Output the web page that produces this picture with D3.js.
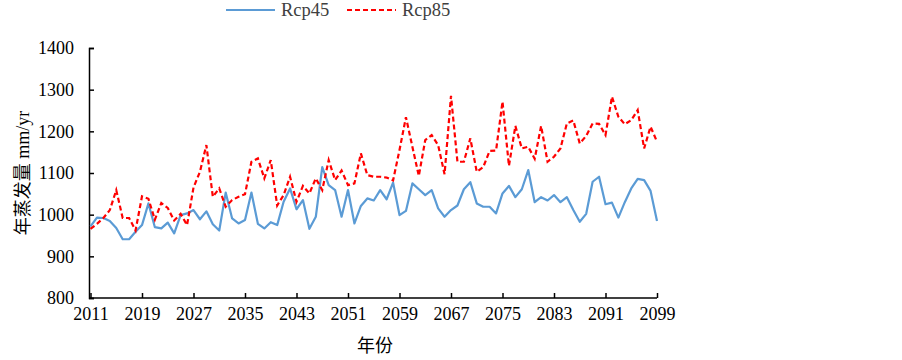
<!DOCTYPE html>
<html>
<head>
<meta charset="utf-8">
<script src="https://cdn.jsdelivr.net/npm/d3@7"></script>
<style>
  body { margin: 0; background: #fff; }
  svg text { font-family: "Liberation Serif", "Noto Sans CJK SC", serif; }
</style>
</head>
<body>
<script>
// 数据
var years = d3.range(2011, 2100);
var xTicks = [2011, 2019, 2027, 2035, 2043, 2051, 2059, 2067, 2075, 2083, 2091, 2099];
var yTicks = [800, 900, 1000, 1100, 1200, 1300, 1400];
var seriesNames = ["Rcp45", "Rcp85"];

var rcp45 = [972, 993, 992, 985, 968, 941, 941, 959, 975, 1027,
  970, 967, 981, 955, 999, 1003, 1011, 989, 1008, 977,
  962, 1053, 991, 979, 987, 1053, 978, 967, 982, 975,
  1031, 1063, 1013, 1035, 966, 995, 1114, 1071, 1059, 995,
  1059, 979, 1021, 1039, 1034, 1059, 1037, 1077, 999, 1009,
  1075, 1061, 1047, 1059, 1015, 995, 1011, 1022, 1061, 1078,
  1027, 1019, 1019, 1003, 1051, 1069, 1042, 1061, 1107, 1030,
  1042, 1034, 1047, 1030, 1042, 1011, 983, 1002, 1079, 1091,
  1025, 1029, 993, 1030, 1063, 1086, 1083, 1057, 985];

var rcp85 = [966, 978, 992, 1011, 1059, 992, 992, 962, 1044, 1038,
  988, 1028, 1016, 986, 1002, 975, 1065, 1103, 1167, 1043,
  1063, 1019, 1035, 1043, 1049, 1127, 1135, 1087, 1131, 1022,
  1047, 1091, 1031, 1069, 1051, 1087, 1059, 1131, 1083, 1106,
  1071, 1075, 1147, 1095, 1091, 1091, 1089, 1082, 1155, 1234,
  1163, 1093, 1179, 1191, 1167, 1097, 1285, 1127, 1127, 1183,
  1103, 1114, 1153, 1154, 1271, 1117, 1213, 1159, 1163, 1134,
  1213, 1127, 1139, 1159, 1219, 1226, 1171, 1189, 1219, 1218,
  1191, 1283, 1235, 1217, 1227, 1251, 1159, 1211, 1175];

function draw() {
  var width = 902, height = 360;
  var mLeft = 89, mRight = 657, mTop = 48, mBottom = 298;

  var svg = d3.select("body").append("svg")
    .attr("width", width)
    .attr("height", height);

  // 比例尺
  var x = d3.scaleLinear().domain([2011, 2099]).range([mLeft + 1.5, mRight]);
  var y = d3.scaleLinear().domain([800, 1400]).range([mBottom, mTop]);

  // 坐标轴 (刻度朝内)
  var xAxis = svg.append("g")
    .attr("transform", "translate(0," + mBottom + ")")
    .call(d3.axisBottom(x).tickValues(xTicks).tickFormat(d3.format("d")).tickSizeOuter(0).tickSize(-5).tickPadding(9));
  xAxis.select(".domain").attr("d", "M" + mLeft + ",0H" + mRight);

  svg.append("g")
    .attr("transform", "translate(" + mLeft + ",0)")
    .call(d3.axisLeft(y).tickValues(yTicks).tickFormat(d3.format("d")).tickSizeOuter(0).tickSize(-5).tickPadding(15));

  svg.selectAll(".tick text").attr("font-size", 18).attr("fill", "#000");
  svg.selectAll(".domain, .tick line").attr("stroke", "#000").attr("stroke-width", 1.5);

  // 折线
  var line = d3.line()
    .x(function (d, i) { return x(years[i]); })
    .y(function (d) { return y(d); });

  svg.append("path")
    .datum(rcp45)
    .attr("fill", "none")
    .attr("stroke", "#5B9BD5")
    .attr("stroke-width", 2.2)
    .attr("stroke-linejoin", "round")
    .attr("d", line);

  svg.append("path")
    .datum(rcp85)
    .attr("fill", "none")
    .attr("stroke", "#FF0000")
    .attr("stroke-width", 2.2)
    .attr("stroke-dasharray", "5,3")
    .attr("d", line);

  // 轴标题
  svg.append("text")
    .attr("transform", "translate(29,173) rotate(-90)")
    .attr("text-anchor", "middle")
    .attr("font-size", 18)
    .text("年蒸发量 mm/yr");

  svg.append("text")
    .attr("x", 375)
    .attr("y", 352)
    .attr("text-anchor", "middle")
    .attr("font-size", 18)
    .text("年份");

  // 图例
  var legendX = [226, 347];
  seriesNames.forEach(function (name, i) {
    svg.append("line")
      .attr("x1", legendX[i]).attr("x2", legendX[i] + 49)
      .attr("y1", 10).attr("y2", 10)
      .attr("stroke", i === 0 ? "#5B9BD5" : "#FF0000")
      .attr("stroke-width", 2.2)
      .attr("stroke-dasharray", i === 0 ? null : "5,3");
    svg.append("text")
      .attr("x", legendX[i] + 55)
      .attr("y", 16)
      .attr("font-size", 18.5)
      .attr("fill", "#404040")
      .text(name);
  });
}

draw();
</script>
</body>
</html>
